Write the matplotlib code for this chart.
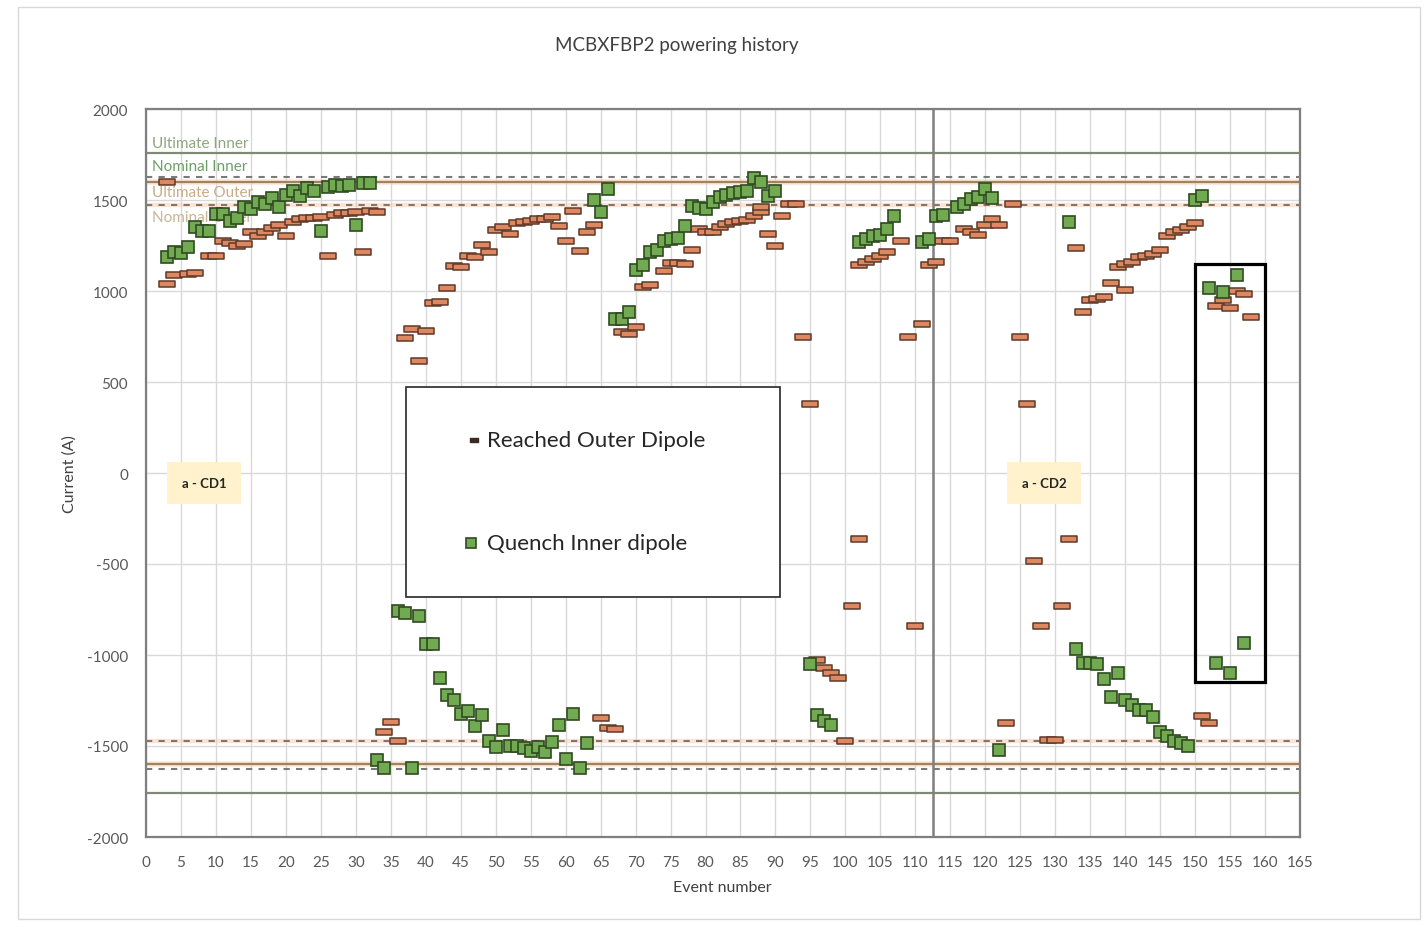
import matplotlib
matplotlib.use("Agg")
import matplotlib.pyplot as plt
from matplotlib.path import Path
from matplotlib.patches import Rectangle

plt.rcParams['font.family'] = ['Lato', 'DejaVu Sans']
plt.rcParams['axes.unicode_minus'] = False

# ---- data -------------------------------------------------------------
outer_event = [3, 3, 4, 6, 7, 9, 10, 11, 12, 13, 14, 15, 16, 17, 18, 19, 20, 21, 22, 23,
               24, 25, 26, 27, 28, 29, 30, 31, 32, 33, 34, 35, 36, 37, 38, 39, 40, 41, 42, 43,
               44, 45, 46, 47, 48, 49, 50, 51, 52, 53, 54, 55, 56, 57, 58, 59, 60, 61, 62, 63,
               64, 65, 66, 67, 68, 69, 70, 71, 72, 74, 75, 76, 77, 78, 79, 80, 81, 82, 83, 84,
               85, 86, 87, 88, 88, 89, 90, 91, 92, 93, 94, 95, 96, 97, 98, 99, 100, 101, 102, 102,
               103, 104, 105, 106, 108, 109, 110, 111, 112, 113, 114, 115, 117, 118, 119, 120, 121, 122, 123, 124,
               125, 126, 127, 128, 129, 130, 131, 132, 133, 134, 135, 136, 137, 138, 139, 140, 140, 141, 142, 143,
               144, 145, 146, 147, 148, 149, 150, 151, 152, 153, 154, 155, 156, 157, 158]
outer_current = [1600, 1038, 1088, 1094, 1100, 1192, 1194, 1272, 1265, 1248, 1260, 1324, 1302, 1322, 1345, 1360, 1302, 1377, 1394, 1400,
                 1400, 1407, 1192, 1420, 1426, 1430, 1435, 1214, 1438, 1432, -1421, -1366, -1471, 740, 793, 615, 780, 934, 938, 1017,
                 1136, 1130, 1194, 1185, 1253, 1213, 1337, 1350, 1313, 1374, 1381, 1386, 1396, 1396, 1409, 1356, 1273, 1438, 1218, 1326,
                 1363, -1346, -1401, -1404, 773, 764, 800, 1020, 1033, 1112, 1155, 1154, 1148, 1227, 1341, 1326, 1322, 1350, 1368, 1377,
                 1387, 1392, 1414, 1436, 1460, 1313, 1246, 1411, 1478, 1478, 746, 379, -1026, -1073, -1101, -1126, -1471, -729, -363, 1143,
                 1158, 1176, 1191, 1213, 1273, 746, -841, 819, 1145, 1161, 1273, 1273, 1341, 1326, 1308, 1363, 1396, 1363, -1374, 1478,
                 746, 379, -484, -841, -1467, -1467, -731, -363, 1238, 883, 951, 956, 965, 1042, 1130, 1005, 1148, 1161, 1185, 1194,
                 1203, 1225, 1304, 1322, 1337, 1350, 1374, -1337, -1374, 919, 950, 905, 1002, 984, 855]

inner_event = [3, 4, 5, 6, 7, 8, 9, 10, 11, 12, 13, 14, 15, 16, 17, 18, 19, 20, 21, 22,
               23, 24, 25, 26, 27, 28, 29, 30, 31, 32, 33, 34, 36, 37, 38, 39, 40, 41, 42, 43,
               44, 45, 46, 47, 48, 49, 50, 51, 52, 53, 54, 55, 56, 57, 58, 59, 60, 61, 62, 63,
               64, 65, 66, 67, 68, 69, 70, 71, 72, 73, 74, 75, 76, 77, 78, 79, 80, 81, 82, 83,
               84, 85, 86, 87, 88, 89, 90, 95, 96, 97, 98, 102, 103, 104, 105, 106, 107, 111, 112, 113,
               114, 116, 117, 118, 119, 120, 121, 122, 132, 133, 134, 135, 136, 137, 138, 139, 140, 141, 142, 143,
               144, 145, 146, 147, 148, 149, 150, 151, 152, 153, 154, 155, 156, 157]
inner_current = [1185, 1213, 1209, 1240, 1350, 1331, 1331, 1425, 1423, 1386, 1403, 1463, 1450, 1487, 1480, 1510, 1460, 1528, 1551, 1524,
                 1565, 1548, 1330, 1572, 1585, 1577, 1581, 1361, 1594, 1594, -1577, -1623, -757, -769, -1623, -784, -940, -940, -1126, -1220,
                 -1246, -1324, -1310, -1388, -1330, -1474, -1507, -1412, -1498, -1498, -1511, -1526, -1507, -1535, -1480, -1385, -1572, -1324, -1621, -1485,
                 1502, 1436, 1561, 846, 846, 886, 1117, 1143, 1216, 1227, 1274, 1286, 1290, 1359, 1469, 1455, 1451, 1487, 1515, 1528,
                 1539, 1546, 1551, 1619, 1597, 1520, 1551, -1050, -1330, -1361, -1383, 1268, 1286, 1301, 1308, 1341, 1411, 1268, 1286, 1414,
                 1418, 1460, 1478, 1506, 1515, 1561, 1510, -1522, 1378, -967, -1044, -1044, -1050, -1132, -1233, -1099, -1246, -1275, -1302, -1302,
                 -1342, -1421, -1443, -1471, -1486, -1502, 1500, 1522, 1015, -1044, 996, -1099, 1090, -934]

# design limits (A)
ultimate_inner = 1760
nominal_inner = 1625
ultimate_outer = 1600
nominal_outer = 1470

limit_labels = ['Ultimate Inner', 'Nominal Inner', 'Ultimate Outer', 'Nominal Outer']
limit_label_y = [1813, 1687, 1544, 1407]
limit_label_colors = ['#8FA67E', '#6E9E68', '#C9AC86', '#C8B594']

x_ticks = list(range(0, 166, 5))
y_ticks = list(range(-2000, 2001, 500))

# ---- figure -------------------------------------------------------------
W, H = 1428, 928
fig = plt.figure(figsize=(W / 100, H / 100), dpi=100)
fig.patch.set_facecolor('white')

# thin outer frame
fig.patches.append(Rectangle((18 / W, 1 - 920 / H), (1420 - 18) / W, (920 - 8) / H,
                             transform=fig.transFigure, fill=False,
                             edgecolor='#D9D9D9', linewidth=1.0))

ax = fig.add_axes([146 / W, 1 - 838 / H, (1300 - 146) / W, (838 - 110) / H])
ax.set_xlim(0, 165)
ax.set_ylim(-2000, 2000)
ax.set_xticks(x_ticks)
ax.set_yticks(y_ticks)
ax.tick_params(length=0, labelsize=11, labelcolor='#595959')
ax.tick_params(axis='y', pad=13)
ax.tick_params(axis='x', pad=13)
ax.grid(True, color='#D9D9D9', linewidth=1.0)
ax.set_axisbelow(True)
for s in ax.spines.values():
    s.set_color('#7F7F7F')
    s.set_linewidth(1.6)

# limit lines (both polarities)
for sgn in (1, -1):
    ax.axhline(sgn * ultimate_inner, color='#7F8A72', lw=1.6, zorder=1.5)
    ax.axhline(sgn * nominal_inner, color='#7A7A7A', lw=1.5, ls=(0, (3, 3)), zorder=1.5)
    ax.axhline(sgn * ultimate_outer, color='#F8CBAD', lw=4, alpha=0.5, zorder=1.4)
    ax.axhline(sgn * ultimate_outer, color='#A0825C', lw=1.6, zorder=1.5)
    ax.axhline(sgn * nominal_outer, color='#F8CBAD', lw=3, alpha=0.5, zorder=1.4)
    ax.axhline(sgn * nominal_outer, color='#8A7565', lw=1.5, ls=(0, (3, 3)), zorder=1.5)

for lab, yv, col in zip(limit_labels, limit_label_y, limit_label_colors):
    ax.text(0.85, yv, lab, color=col, fontsize=11, va='center', ha='left', zorder=2)

# separation between the two cooldowns
ax.axvline(112.5, color='#7F7F7F', lw=1.8, zorder=1.6)

# data markers
dash = Path([(-1, -0.42), (1, -0.42), (1, 0.42), (-1, 0.42), (-1, -0.42)],
            [Path.MOVETO, Path.LINETO, Path.LINETO, Path.LINETO, Path.CLOSEPOLY])
ax.plot(outer_event, outer_current, ls='none', marker=dash, markersize=11.5,
        markerfacecolor='#DE8760', markeredgecolor='#5E3B28', markeredgewidth=1.1, zorder=3)
ax.plot(inner_event, inner_current, ls='none', marker='s', markersize=8.2,
        markerfacecolor='#72AA52', markeredgecolor='#2F4A22', markeredgewidth=1.2, zorder=4)

# highlighted group
ax.add_patch(Rectangle((150, -1150), 10, 2300, fill=False, edgecolor='black', lw=2.3, zorder=5))

# cooldown tags
for xt, txt in [(8.3, 'a - CD1'), (128.4, 'a - CD2')]:
    ax.text(xt, -55, txt, fontsize=9.5, fontweight='bold', color='#262626', ha='center', va='center',
            bbox=dict(boxstyle='square,pad=1.1', facecolor='#FFF2CC', edgecolor='none'), zorder=2)

# legend box
lx0, lx1 = (406 - 146) / 1154, (780 - 146) / 1154
ly0, ly1 = (838 - 598) / 728, (838 - 388) / 728
ax.add_patch(Rectangle((lx0, ly0), lx1 - lx0, ly1 - ly0, transform=ax.transAxes,
                       facecolor='white', edgecolor='#262626', lw=1.2, zorder=6))
ax.plot([(474 - 146) / 1154], [(838 - 441) / 728], transform=ax.transAxes, ls='none',
        marker=dash, markersize=5.5, markerfacecolor='#3A2A20', markeredgecolor='#3A2A20', zorder=7)
ax.plot([(471 - 146) / 1154], [(838 - 544) / 728], transform=ax.transAxes, ls='none',
        marker='s', markersize=7.5, markerfacecolor='#72AA52', markeredgecolor='#2F4A22',
        markeredgewidth=1.2, zorder=7)
ax.text((487 - 146) / 1154, (838 - 441) / 728, 'Reached Outer Dipole', transform=ax.transAxes,
        fontsize=16, color='#262626', va='center', ha='left', zorder=7)
ax.text((487 - 146) / 1154, (838 - 544) / 728, 'Quench Inner dipole', transform=ax.transAxes,
        fontsize=16, color='#262626', va='center', ha='left', zorder=7)

# titles
fig.text(677 / W, 1 - 45 / H, 'MCBXFBP2 powering history', ha='center', va='center',
         fontsize=13.5, color='#404040')
fig.text(722 / W, 1 - 888 / H, 'Event number', ha='center', va='center', fontsize=11.5, color='#404040')
fig.text(70 / W, 1 - 474 / H, 'Current (A)', ha='center', va='center', rotation=90,
         fontsize=11.5, color='#404040')

fig.savefig('out.png', dpi=100)
